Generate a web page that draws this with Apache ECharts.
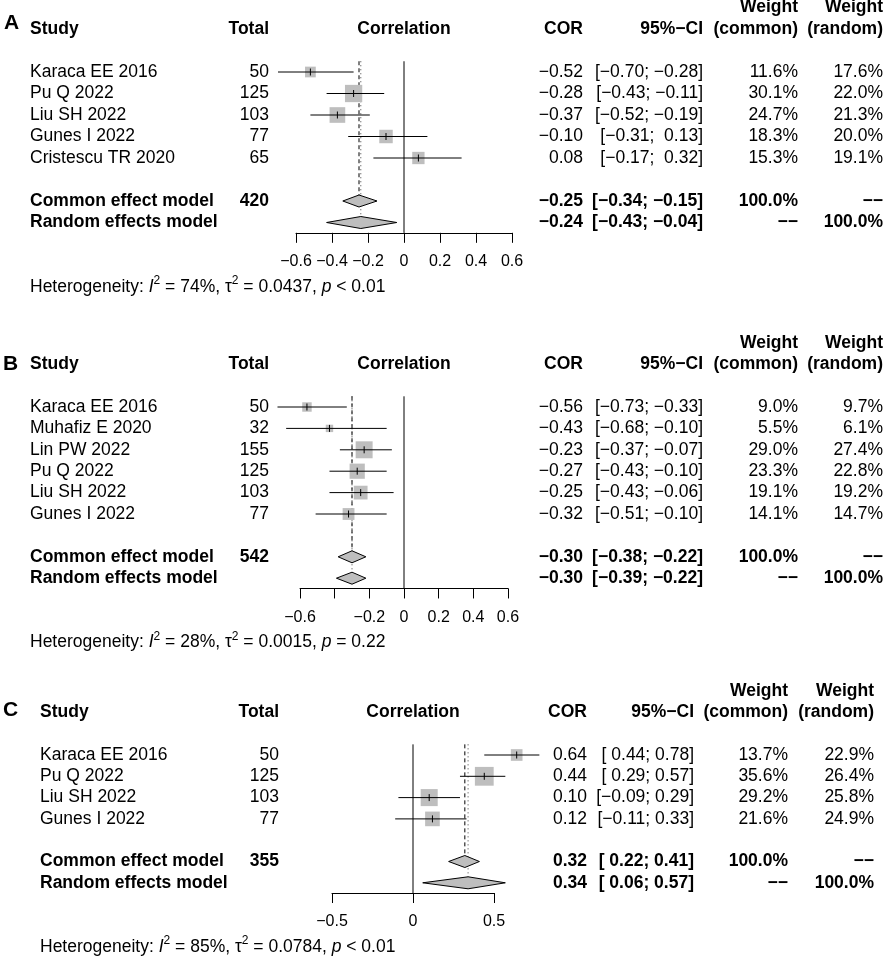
<!DOCTYPE html>
<html>
<head>
<meta charset="utf-8">
<script src="https://cdn.jsdelivr.net/npm/echarts@6/dist/echarts.min.js"></script>
<style>
  html, body { margin: 0; padding: 0; background: #fff; }
  #main { width: 886px; height: 958px; }
</style>
</head>
<body>
<div id="main"></div>
<script>
// ---- Panel A ----
const studiesA = ['Karaca EE 2016', 'Pu Q 2022', 'Liu SH 2022', 'Gunes I 2022', 'Cristescu TR 2020'];
const totalA = [50, 125, 103, 77, 65];
const corA = [-0.52, -0.28, -0.37, -0.10, 0.08];
const lowA = [-0.70, -0.43, -0.52, -0.31, -0.17];
const upA = [-0.28, -0.11, -0.19, 0.13, 0.32];
const wCommonA = [11.6, 30.1, 24.7, 18.3, 15.3];
const wRandomA = [17.6, 22.0, 21.3, 20.0, 19.1];
const commonA = [-0.25, -0.34, -0.15];   // estimate, lower, upper
const randomA = [-0.24, -0.43, -0.04];
const hetA = ['74', '0.0437', '< 0.01']; // I2, tau2, p
const ticksA = [-0.6, -0.4, -0.2, 0, 0.2, 0.4, 0.6];
const tickLabelsA = ['−0.6', '−0.4', '−0.2', '0', '0.2', '0.4', '0.6'];

// ---- Panel B ----
const studiesB = ['Karaca EE 2016', 'Muhafiz E 2020', 'Lin PW 2022', 'Pu Q 2022', 'Liu SH 2022', 'Gunes I 2022'];
const totalB = [50, 32, 155, 125, 103, 77];
const corB = [-0.56, -0.43, -0.23, -0.27, -0.25, -0.32];
const lowB = [-0.73, -0.68, -0.37, -0.43, -0.43, -0.51];
const upB = [-0.33, -0.10, -0.07, -0.10, -0.06, -0.10];
const wCommonB = [9.0, 5.5, 29.0, 23.3, 19.1, 14.1];
const wRandomB = [9.7, 6.1, 27.4, 22.8, 19.2, 14.7];
const commonB = [-0.30, -0.38, -0.22];
const randomB = [-0.30, -0.39, -0.22];
const hetB = ['28', '0.0015', '= 0.22'];
const ticksB = [-0.6, -0.4, -0.2, 0, 0.2, 0.4, 0.6];
const tickLabelsB = ['−0.6', '', '−0.2', '0', '0.2', '0.4', '0.6'];

// ---- Panel C ----
const studiesC = ['Karaca EE 2016', 'Pu Q 2022', 'Liu SH 2022', 'Gunes I 2022'];
const totalC = [50, 125, 103, 77];
const corC = [0.64, 0.44, 0.10, 0.12];
const lowC = [0.44, 0.29, -0.09, -0.11];
const upC = [0.78, 0.57, 0.29, 0.33];
const wCommonC = [13.7, 35.6, 29.2, 21.6];
const wRandomC = [22.9, 26.4, 25.8, 24.9];
const commonC = [0.32, 0.22, 0.41];
const randomC = [0.34, 0.06, 0.57];
const hetC = ['85', '0.0784', '< 0.01'];
const ticksC = [-0.5, 0, 0.5];
const tickLabelsC = ['−0.5', '0', '0.5'];

// layout of each panel (pixels)
const layoutA = { letter: 'A', letterX: 4, letterR: -2.25, zeroX: 404, ppu: 180, y0: 72, rowH: 21.5, cols: [30, 269, 583, 703, 798, 883] };
const layoutB = { letter: 'B', letterX: 3, letterR: -2.0, zeroX: 404, ppu: 173.3, y0: 407, rowH: 21.4, cols: [30, 269, 583, 703, 798, 883] };
const layoutC = { letter: 'C', letterX: 3, letterR: -2.1, zeroX: 413, ppu: 162, y0: 755, rowH: 21.3, cols: [40, 279, 587, 694, 788, 874] };

const FONT = '"Liberation Sans", Arial, Helvetica, sans-serif';
const FS = 17.5;
const GREY = '#BEBEBE';
const DIAMOND_H = 6;   // half height of the pooled diamonds
const R_MIN = -3.3;

function fmtNum(v) {
  return (v < 0 ? '−' : '') + Math.abs(v).toFixed(2);
}
function fmtCI(lo, hi, loNeg, hiNeg) {
  const pad = (v, neg) => (neg && v >= 0 ? ' ' : '') + fmtNum(v);
  return '[' + pad(lo, loNeg) + '; ' + pad(hi, hiNeg) + ']';
}

function textItem(cell, p) {
  return {
    type: 'text',
    x: p[0],
    y: p[1],
    style: {
      text: cell.text,
      rich: cell.rich,
      textAlign: cell.align,
      textVerticalAlign: 'middle',
      fontSize: cell.size || FS,
      fontWeight: cell.bold ? 'bold' : 'normal',
      fontFamily: FONT,
      fill: '#000'
    }
  };
}

function buildPanel(k, d, lay) {
  const n = d.studies.length;
  const rAxis = n + 2.48;
  const rMax = n + 5.6;
  const top = lay.y0 + R_MIN * lay.rowH;
  const t0 = d.ticks[0], t1 = d.ticks[d.ticks.length - 1];
  const step = Math.round((d.ticks[1] - d.ticks[0]) * 1000) / 1000;
  const gp = 2 * k, gt = 2 * k + 1;

  const grids = [
    { left: lay.zeroX + t0 * lay.ppu, width: (t1 - t0) * lay.ppu, top: top, height: (rAxis - R_MIN) * lay.rowH, outerBoundsMode: 'none' },
    { left: 0, width: 886, top: top, height: (rMax - R_MIN) * lay.rowH, outerBoundsMode: 'none' }
  ];
  const xAxes = [
    {
      gridIndex: gp, type: 'value', min: t0, max: t1, interval: step,
      axisLine: { show: true, onZero: false, lineStyle: { color: '#000', width: 1 } },
      axisTick: { show: true, inside: false, length: 10, lineStyle: { color: '#000', width: 1 } },
      axisLabel: {
        show: true, showMinLabel: true, showMaxLabel: true,
        color: '#000', fontSize: 16, fontFamily: FONT, margin: 21,
        formatter: v => {
          const i = d.ticks.findIndex(t => Math.abs(t - v) < 1e-6);
          return i >= 0 ? d.tickLabels[i] : '';
        }
      },
      splitLine: { show: false }
    },
    { gridIndex: gt, type: 'value', min: 0, max: 886, show: false }
  ];
  const yAxes = [
    { gridIndex: gp, type: 'value', inverse: true, min: R_MIN, max: rAxis, show: false },
    { gridIndex: gt, type: 'value', inverse: true, min: R_MIN, max: rMax, show: false }
  ];

  // reference lines: zero (solid), common (dashed), random (dotted)
  const refData = [
    [0, -0.5, rAxis, 0],
    [d.common[0], -0.5, n + 1, 1],
    [d.random[0], -0.5, n + 2, 2]
  ];
  const refSeries = {
    type: 'custom', xAxisIndex: gp, yAxisIndex: gp, clip: false, z: 1, silent: true,
    data: refData,
    renderItem: (params, api) => {
      const kind = api.value(3);
      const a = api.coord([api.value(0), api.value(1)]);
      const b = api.coord([api.value(0), api.value(2)]);
      const yb = kind ? b[1] - DIAMOND_H : b[1];
      const dash = kind === 1 ? [4, 3] : kind === 2 ? [1, 3] : null;
      return {
        type: 'line',
        shape: { x1: a[0], y1: a[1], x2: a[0], y2: yb },
        style: { stroke: kind === 2 ? '#444' : '#000', lineWidth: 1, lineDash: dash }
      };
    }
  };

  // study squares + confidence intervals
  const studyData = d.cor.map((c, i) => [c, i, d.low[i], d.up[i], d.wCommon[i]]);
  const studySeries = {
    type: 'custom', xAxisIndex: gp, yAxisIndex: gp, clip: false, z: 2, silent: true,
    data: studyData,
    renderItem: (params, api) => {
      const c = api.coord([api.value(0), api.value(1)]);
      const l = api.coord([api.value(2), api.value(1)]);
      const u = api.coord([api.value(3), api.value(1)]);
      const s = 3.15 * Math.sqrt(api.value(4));
      return {
        type: 'group',
        children: [
          { type: 'rect', shape: { x: c[0] - s / 2, y: c[1] - s / 2, width: s, height: s }, style: { fill: GREY } },
          { type: 'line', shape: { x1: l[0], y1: c[1], x2: u[0], y2: c[1] }, style: { stroke: '#000', lineWidth: 1 } },
          { type: 'line', shape: { x1: c[0], y1: c[1] - 3.5, x2: c[0], y2: c[1] + 3.5 }, style: { stroke: '#000', lineWidth: 1 } }
        ]
      };
    }
  };

  // pooled diamonds
  const diamondData = [
    [d.common[0], n + 1, d.common[1], d.common[2]],
    [d.random[0], n + 2, d.random[1], d.random[2]]
  ];
  const diamondSeries = {
    type: 'custom', xAxisIndex: gp, yAxisIndex: gp, clip: false, z: 2, silent: true,
    data: diamondData,
    renderItem: (params, api) => {
      const c = api.coord([api.value(0), api.value(1)]);
      const l = api.coord([api.value(2), api.value(1)]);
      const u = api.coord([api.value(3), api.value(1)]);
      return {
        type: 'polygon',
        shape: { points: [[l[0], c[1]], [c[0], c[1] - DIAMOND_H], [u[0], c[1]], [c[0], c[1] + DIAMOND_H]] },
        style: { fill: GREY, stroke: '#000', lineWidth: 1 }
      };
    }
  };

  // "Correlation" header centred over the axis range
  const corrHeader = { text: 'Correlation', align: 'center', bold: true };
  const headerSeries = {
    type: 'custom', xAxisIndex: gp, yAxisIndex: gp, clip: false, z: 3, silent: true,
    data: [[(t0 + t1) / 2, -2]],
    renderItem: (params, api) => textItem(corrHeader, api.coord([api.value(0), api.value(1)]))
  };

  // table text
  const [cStudy, cTotal, cCor, cCi, cWc, cWr] = lay.cols;
  const loNeg = d.low.concat([d.common[1], d.random[1]]).some(v => v < 0);
  const hiNeg = d.up.concat([d.common[2], d.random[2]]).some(v => v < 0);
  const cells = [];
  const add = (x, r, text, align, bold, extra) => cells.push(Object.assign({ x, r, text, align, bold }, extra || {}));

  add(lay.letterX, lay.letterR, lay.letter, 'left', true, { size: 21 });
  add(cStudy, -2, 'Study', 'left', true);
  add(cTotal, -2, 'Total', 'right', true);
  add(cCor, -2, 'COR', 'right', true);
  add(cCi, -2, '95%−CI', 'right', true);
  add(cWc, -3, 'Weight', 'right', true);
  add(cWc, -2, '(common)', 'right', true);
  add(cWr, -3, 'Weight', 'right', true);
  add(cWr, -2, '(random)', 'right', true);

  d.studies.forEach((s, i) => {
    add(cStudy, i, s, 'left', false);
    add(cTotal, i, String(d.total[i]), 'right', false);
    add(cCor, i, fmtNum(d.cor[i]), 'right', false);
    add(cCi, i, fmtCI(d.low[i], d.up[i], loNeg, hiNeg), 'right', false);
    add(cWc, i, d.wCommon[i].toFixed(1) + '%', 'right', false);
    add(cWr, i, d.wRandom[i].toFixed(1) + '%', 'right', false);
  });

  const sumTotal = d.total.reduce((a, b) => a + b, 0);
  add(cStudy, n + 1, 'Common effect model', 'left', true);
  add(cTotal, n + 1, String(sumTotal), 'right', true);
  add(cCor, n + 1, fmtNum(d.common[0]), 'right', true);
  add(cCi, n + 1, fmtCI(d.common[1], d.common[2], loNeg, hiNeg), 'right', true);
  add(cWc, n + 1, '100.0%', 'right', true);
  add(cWr, n + 1, '−−', 'right', true);

  add(cStudy, n + 2, 'Random effects model', 'left', true);
  add(cCor, n + 2, fmtNum(d.random[0]), 'right', true);
  add(cCi, n + 2, fmtCI(d.random[1], d.random[2], loNeg, hiNeg), 'right', true);
  add(cWc, n + 2, '−−', 'right', true);
  add(cWr, n + 2, '100.0%', 'right', true);

  const richBase = { fontSize: FS, fontFamily: FONT, fill: '#000' };
  add(cStudy, n + 5,
    'Heterogeneity: {it|I}{sup|2} = ' + d.het[0] + '%, τ{sup|2} = ' + d.het[1] + ', {it|p} ' + d.het[2],
    'left', false, {
      rich: {
        it: Object.assign({}, richBase, { fontStyle: 'italic' }),
        sup: Object.assign({}, richBase, { fontSize: 12, padding: [0, 0, 12, 0] })
      }
    });

  const tableSeries = {
    type: 'custom', xAxisIndex: gt, yAxisIndex: gt, clip: false, z: 3, silent: true,
    data: cells.map(c => [c.x, c.r]),
    renderItem: (params, api) => textItem(cells[params.dataIndex], api.coord([api.value(0), api.value(1)]))
  };

  return { grids, xAxes, yAxes, series: [refSeries, studySeries, diamondSeries, headerSeries, tableSeries] };
}

const panels = [
  buildPanel(0, { studies: studiesA, total: totalA, cor: corA, low: lowA, up: upA, wCommon: wCommonA, wRandom: wRandomA,
    common: commonA, random: randomA, het: hetA, ticks: ticksA, tickLabels: tickLabelsA }, layoutA),
  buildPanel(1, { studies: studiesB, total: totalB, cor: corB, low: lowB, up: upB, wCommon: wCommonB, wRandom: wRandomB,
    common: commonB, random: randomB, het: hetB, ticks: ticksB, tickLabels: tickLabelsB }, layoutB),
  buildPanel(2, { studies: studiesC, total: totalC, cor: corC, low: lowC, up: upC, wCommon: wCommonC, wRandom: wRandomC,
    common: commonC, random: randomC, het: hetC, ticks: ticksC, tickLabels: tickLabelsC }, layoutC)
];

const chart = echarts.init(document.getElementById('main'), null, { renderer: 'canvas' });

const option = {
  animation: false,
  backgroundColor: '#fff',
  grid: panels.flatMap(p => p.grids),
  xAxis: panels.flatMap(p => p.xAxes),
  yAxis: panels.flatMap(p => p.yAxes),
  series: panels.flatMap(p => p.series)
};

chart.setOption(option);
window.addEventListener('resize', () => chart.resize());
</script>
</body>
</html>
